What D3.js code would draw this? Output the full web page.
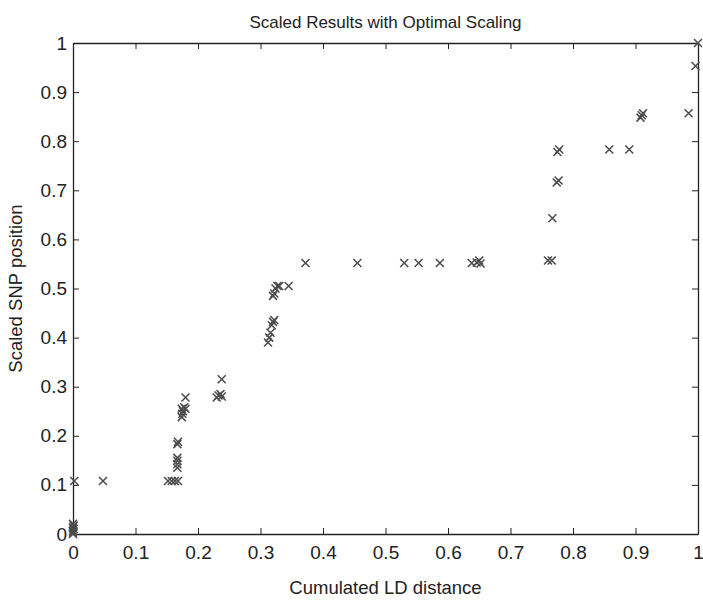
<!DOCTYPE html>
<html>
<head>
    <title>Scaled Results with Optimal Scaling</title>
    <script src="https://d3js.org/d3.v7.min.js"></script>
    <style>
        body {
            margin: 0;
            background-color: #fff;
            font-family: "Liberation Sans", Arial, sans-serif;
        }
        .axis text {
            font-family: "Liberation Sans", Arial, sans-serif;
            font-size: 19px;
            fill: #222;
        }
        .axis path, .axis line {
            stroke: #222;
        }
        .mark {
            stroke: #4a4a4a;
            stroke-width: 1.5;
        }
    </style>
</head>
<body>
    <svg id="chart"></svg>
    <script>
        // cumulated LD distance (x) and scaled SNP position (y)
        const ldDistance = [
            0, 0, 0, 0.001, 0, 0.001, 0, 0.002, 0.048,
            0.152, 0.158, 0.163, 0.168,
            0.167, 0.167, 0.167, 0.167, 0.167, 0.168,
            0.174, 0.175, 0.176, 0.174, 0.178, 0.18, 0.18,
            0.23, 0.233, 0.236, 0.238, 0.238,
            0.312, 0.314, 0.316, 0.318, 0.32, 0.322, 0.32, 0.322, 0.324, 0.327, 0.33, 0.345,
            0.372, 0.455, 0.53, 0.553, 0.587, 0.638, 0.646, 0.65, 0.652,
            0.76, 0.766, 0.767, 0.774, 0.777, 0.775, 0.778,
            0.858, 0.89, 0.908, 0.91, 0.912, 0.985, 0.996, 1.0
        ];
        const snpPosition = [
            0, 0.003, 0.006, 0.01, 0.013, 0.017, 0.021, 0.108, 0.108,
            0.108, 0.108, 0.108, 0.108,
            0.135, 0.142, 0.149, 0.155, 0.183, 0.188,
            0.238, 0.245, 0.25, 0.255, 0.258, 0.255, 0.278,
            0.278, 0.282, 0.285, 0.28, 0.315,
            0.39, 0.4, 0.41, 0.425, 0.432, 0.436, 0.485, 0.49, 0.5, 0.505, 0.505, 0.505,
            0.552, 0.552, 0.552, 0.552, 0.552, 0.552, 0.553, 0.557, 0.551,
            0.557, 0.557, 0.643, 0.716, 0.72, 0.778, 0.783,
            0.783, 0.783, 0.848, 0.853, 0.857, 0.857, 0.953, 1.0
        ];
        const tickValues = [0, 0.1, 0.2, 0.3, 0.4, 0.5, 0.6, 0.7, 0.8, 0.9, 1];

        const data = ldDistance.map((x, i) => ({ x: x, y: snpPosition[i] }));

        const totalW = 703, totalH = 600;
        const margin = { top: 43, right: 5, bottom: 66, left: 73 };
        const width = totalW - margin.left - margin.right;
        const height = totalH - margin.top - margin.bottom;

        const svg = d3.select('#chart')
            .attr('width', totalW)
            .attr('height', totalH);

        const g = svg.append('g')
            .attr('transform', `translate(${margin.left},${margin.top})`);

        const x = d3.scaleLinear().domain([0, 1]).range([0, width]);
        const y = d3.scaleLinear().domain([0, 1]).range([height, 0]);

        const fmt = d => d3.format('~g')(d);

        // bottom + left axes with labels, ticks pointing inward
        g.append('g')
            .attr('class', 'axis')
            .attr('transform', `translate(0,${height})`)
            .call(d3.axisBottom(x).tickValues(tickValues).tickFormat(fmt)
                .tickSizeInner(-6).tickSizeOuter(0).tickPadding(12));

        g.append('g')
            .attr('class', 'axis')
            .call(d3.axisLeft(y).tickValues(tickValues).tickFormat(fmt)
                .tickSizeInner(-6).tickSizeOuter(0).tickPadding(6));

        // top + right axes, ticks only (box)
        g.append('g')
            .attr('class', 'axis')
            .call(d3.axisTop(x).tickValues(tickValues).tickFormat('')
                .tickSizeInner(-6).tickSizeOuter(0));

        g.append('g')
            .attr('class', 'axis')
            .attr('transform', `translate(${width},0)`)
            .call(d3.axisRight(y).tickValues(tickValues).tickFormat('')
                .tickSizeInner(-6).tickSizeOuter(0));

        g.selectAll('.axis path').attr('stroke-width', 1.3);

        // x markers
        const s = 4;
        g.selectAll('.mark')
            .data(data)
            .enter()
            .append('path')
            .attr('class', 'mark')
            .attr('d', d => {
                const cx = x(d.x), cy = y(d.y);
                return `M${cx - s},${cy - s}L${cx + s},${cy + s}M${cx - s},${cy + s}L${cx + s},${cy - s}`;
            });

        // title and axis labels
        svg.append('text')
            .attr('x', margin.left + width / 2)
            .attr('y', 28)
            .attr('text-anchor', 'middle')
            .attr('font-size', 17)
            .attr('fill', '#222')
            .text('Scaled Results with Optimal Scaling');

        svg.append('text')
            .attr('x', margin.left + width / 2)
            .attr('y', 594)
            .attr('text-anchor', 'middle')
            .attr('font-size', 18.5)
            .attr('fill', '#222')
            .text('Cumulated LD distance');

        svg.append('text')
            .attr('transform', `translate(22,${margin.top + height / 2}) rotate(-90)`)
            .attr('text-anchor', 'middle')
            .attr('font-size', 18.5)
            .attr('fill', '#222')
            .text('Scaled SNP position');
    </script>
</body>
</html>
